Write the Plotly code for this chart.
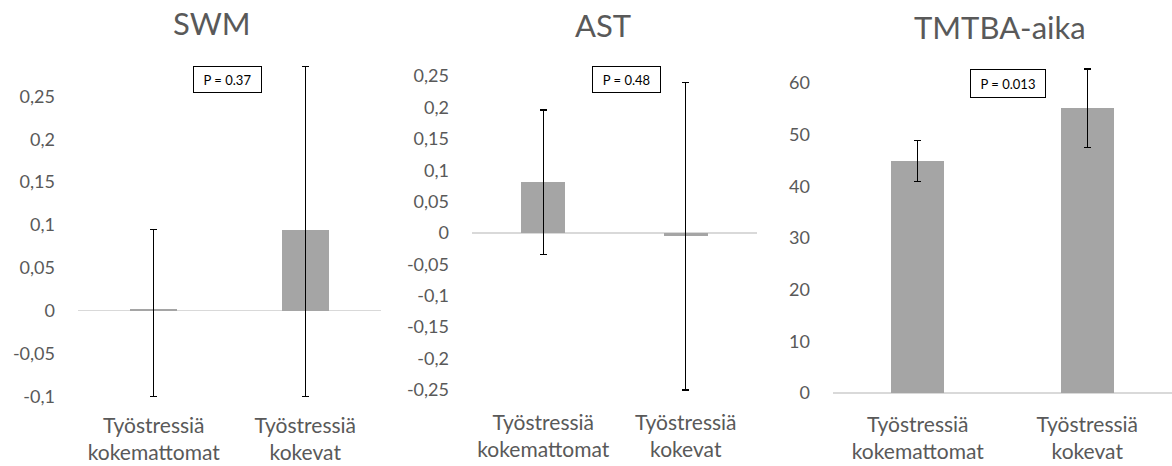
import plotly.graph_objects as go

categories = ["Työstressiä<br>kokemattomat", "Työstressiä<br>kokevat"]

titles = ["SWM", "AST", "TMTBA-aika"]
p_values = ["P = 0.37", "P = 0.48", "P = 0.013"]

swm_mean = [0.002, 0.094]
swm_err_plus = [0.093, 0.191]
swm_err_minus = [0.102, 0.194]

ast_mean = [0.081, -0.005]
ast_err_plus = [0.115, 0.245]
ast_err_minus = [0.115, 0.245]

tmt_mean = [44.9, 55.1]
tmt_err_plus = [3.9, 7.6]
tmt_err_minus = [3.9, 7.6]

swm_ticks = [-0.1, -0.05, 0, 0.05, 0.1, 0.15, 0.2, 0.25]
swm_ticktext = ["-0,1", "-0,05", "0", "0,05", "0,1", "0,15", "0,2", "0,25"]
ast_ticks = [-0.25, -0.2, -0.15, -0.1, -0.05, 0, 0.05, 0.1, 0.15, 0.2, 0.25]
ast_ticktext = ["-0,25", "-0,2", "-0,15", "-0,1", "-0,05", "0", "0,05", "0,1", "0,15", "0,2", "0,25"]
tmt_ticks = [0, 10, 20, 30, 40, 50, 60]
tmt_ticktext = ["0", "10", "20", "30", "40", "50", "60"]

W, H = 1172, 466
FONT = "Lato"
GREY = "#595959"
BAR = "#A5A5A5"


def px_x(a, b):
    return [a / W, b / W]


def px_y(top, bottom):
    return [(H - bottom) / H, (H - top) / H]


fig = go.Figure()

panels = [
    (swm_mean, swm_err_plus, swm_err_minus, "x", "y"),
    (ast_mean, ast_err_plus, ast_err_minus, "x2", "y2"),
    (tmt_mean, tmt_err_plus, tmt_err_minus, "x3", "y3"),
]
for mean, ep, em, xa, ya in panels:
    fig.add_trace(go.Bar(
        x=categories, y=mean, xaxis=xa, yaxis=ya,
        marker=dict(color=BAR, line=dict(width=0)),
        width=0.31,
        error_y=dict(type="data", symmetric=False, array=ep, arrayminus=em,
                     color="black", thickness=1.3, width=3.5),
        showlegend=False, hoverinfo="skip",
    ))

xcommon = dict(showgrid=False, zeroline=False, showline=False, ticks="",
               tickfont=dict(family=FONT, size=21, color=GREY),
               fixedrange=True, automargin=False)
ycommon = dict(showgrid=False, showline=False, ticks="",
               tickfont=dict(family=FONT, size=18, color=GREY),
               zeroline=True, zerolinecolor="#D9D9D9", zerolinewidth=1.5,
               ticklabelstandoff=22, fixedrange=True, automargin=False)

fig.update_layout(
    width=W, height=H, autosize=False,
    margin=dict(l=0, r=0, t=0, b=0, pad=0, autoexpand=False),
    paper_bgcolor="white", plot_bgcolor="white",
    bargap=0,
    xaxis=dict(domain=px_x(78, 381), ticklabelstandoff=13, **xcommon),
    yaxis=dict(domain=px_y(62.2, 398.1), range=[-0.102, 0.29],
               tickvals=swm_ticks, ticktext=swm_ticktext, **ycommon),
    xaxis2=dict(domain=px_x(472, 757), anchor="y2", ticklabelstandoff=15, **xcommon),
    yaxis2=dict(domain=px_y(72.9, 393.1), range=[-0.255, 0.255], anchor="x2",
                tickvals=ast_ticks, ticktext=ast_ticktext, **ycommon),
    xaxis3=dict(domain=px_x(833, 1172), anchor="y3", ticklabelstandoff=17, **xcommon),
    yaxis3=dict(domain=px_y(62.3, 393), range=[0, 64], anchor="x3",
                tickvals=tmt_ticks, ticktext=tmt_ticktext, **ycommon),
)

title_pos = [(212, 23), (603, 25), (1000, 27)]
for t, (cx, cy) in zip(titles, title_pos):
    fig.add_annotation(text=t, x=cx / W, y=(H - cy) / H, xref="paper", yref="paper",
                       xanchor="center", yanchor="middle", showarrow=False,
                       font=dict(family=FONT, size=31, color=GREY))

p_pos = [(227.5, 79.5, 69, 27), (626.5, 79.5, 69, 27), (1008, 83.5, 76, 29)]
for t, (cx, cy, w, h) in zip(p_values, p_pos):
    fig.add_annotation(text=t, x=cx / W, y=(H - cy) / H, xref="paper", yref="paper",
                       xanchor="center", yanchor="middle", showarrow=False,
                       width=w - 2, height=h - 2, borderpad=0,
                       bordercolor="black", borderwidth=1, bgcolor="white",
                       font=dict(family=FONT, size=13, color="black"))

fig.write_html("out.html", config={"displayModeBar": False, "staticPlot": True},
               post_script="document.body.style.margin='0';")
